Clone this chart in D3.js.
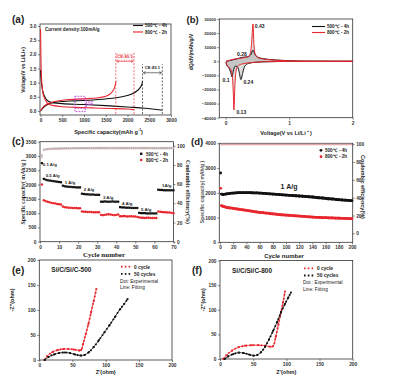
<!DOCTYPE html>
<html><head><meta charset="utf-8">
<script src="https://cdn.jsdelivr.net/npm/d3@7"></script>
<style>
html,body{margin:0;padding:0;background:#fff;}
svg{display:block;font-family:"Liberation Sans",Arial,sans-serif;}
</style></head>
<body><svg id="c" width="399" height="385"></svg>
<script>
// ---------- DATA ----------
// (a) galvanostatic profiles [capacity mAh/g, voltage V]
const aRedDis = [[0,2.9],[5,2.5],[10,1.9],[20,1.3],[35,0.9],[60,0.6],[100,0.42],[150,0.3],[200,0.24],[300,0.19],[500,0.15],[800,0.13],[1200,0.11],[1600,0.09],[2000,0.07],[2150,0.04]];
const aRedCha = [[0,0.0],[30,0.08],[80,0.17],[150,0.25],[300,0.33],[600,0.4],[1000,0.43],[1300,0.46],[1500,0.52],[1600,0.6],[1680,0.75],[1720,0.92],[1735,1.05]];
const aBlkDis = [[0,1.45],[10,1.2],[30,0.9],[60,0.65],[100,0.5],[150,0.38],[250,0.3],[500,0.26],[1000,0.23],[1500,0.19],[2000,0.14],[2400,0.1],[2800,0.03]];
const aBlkCha = [[0,0.0],[40,0.08],[100,0.17],[200,0.26],[400,0.32],[800,0.36],[1200,0.39],[1600,0.44],[1900,0.51],[2100,0.6],[2250,0.75],[2320,0.9],[2345,1.05]];
const aXTicks = [0,500,1000,1500,2000,2500,3000];
const aYTicks = [0,0.5,1.0,1.5,2.0,2.5,3.0];
const aCE = [{label:"CE:80.1", left:1730, right:2150, color:"#e8323c"},{label:"CE:83.1", left:2345, right:2800, color:"#222"}];

// (b) dQ/dV [voltage, value]
const bRedDis = [[2.0,0],[1.0,-50],[0.6,-300],[0.45,-700],[0.35,-1200],[0.25,-2000],[0.19,-3500],[0.16,-8000],[0.145,-18000],[0.13,-34500],[0.12,-22000],[0.1,-9000],[0.07,-5000],[0.04,-4000],[0.02,-2500],[0.005,-500]];
const bRedCha = [[0.005,0],[0.05,500],[0.1,1200],[0.2,2000],[0.3,2600],[0.36,3500],[0.39,6000],[0.41,14000],[0.43,26500],[0.445,12000],[0.47,4500],[0.52,2500],[0.6,1600],[0.8,800],[1.0,300],[1.3,80],[2.0,0]];
const bBlkDis = [[2.0,0],[1.0,-80],[0.6,-400],[0.45,-800],[0.36,-1500],[0.3,-3500],[0.27,-8000],[0.24,-13000],[0.21,-7000],[0.18,-3500],[0.15,-3500],[0.12,-7000],[0.1,-11000],[0.08,-8000],[0.05,-4500],[0.02,-3000],[0.005,-500]];
const bBlkCha = [[0.005,0],[0.05,400],[0.1,900],[0.18,1800],[0.26,2800],[0.3,3000],[0.35,3200],[0.4,5000],[0.43,8000],[0.46,5000],[0.5,3000],[0.6,1800],[0.8,900],[1.0,400],[1.3,100],[2.0,0]];
const bXTicks = [0,1,2];
const bYTicks = [-40000,-30000,-20000,-10000,0,10000,20000,30000];
const bPeaks = [{t:"0.43",v:0.46,q:25000},{t:"0.28",v:0.18,q:5500},{t:"0.1",v:-0.05,q:-13500},{t:"0.24",v:0.28,q:-14500},{t:"0.13",v:0.17,q:-36000}];

// (c) rate performance
const cCycles = [1,2,3,4,5,6,7,8,9,10,11,12,13,14,15,16,17,18,19,20,21,22,23,24,25,26,27,28,29,30,31,32,33,34,35,36,37,38,39,40,41,42,43,44,45,46,47,48,49,50,51,52,53,54,55,56,57,58,59,60,61,62,63,64,65,66,67,68,69,70];
const cBlack = [2750,2200,2170,2150,2140,2130,2120,2110,2100,2090,2080,1960,1940,1930,1920,1920,1910,1910,1900,1900,1900,1680,1670,1660,1660,1650,1650,1650,1640,1640,1640,1400,1400,1410,1400,1400,1400,1410,1400,1400,1400,1210,1200,1200,1190,1190,1190,1180,1180,1180,1180,1010,1000,1000,1000,990,990,990,990,990,990,1820,1810,1810,1800,1800,1800,1800,1800,1800];
const cRed = [2000,1450,1420,1400,1380,1360,1350,1340,1320,1310,1300,1230,1210,1200,1190,1190,1180,1180,1180,1170,1170,1060,1050,1050,1040,1040,1040,1030,1030,1030,1030,940,930,940,950,960,950,940,930,940,950,890,890,900,890,880,890,890,880,880,870,850,840,840,830,840,840,830,830,830,830,1060,1050,1040,1030,1030,1020,1020,1010,1000];
const cCE1 = [90,96,96.5,96.8,97,97,97.2,97.2,97.3,97.3,97.4,97.4,97.5,97.5,97.5,97.5,97.6,97.6,97.6,97.6,97.6,97.7,97.7,97.7,97.7,97.7,97.8,97.8,97.8,97.8,97.8,97.8,97.8,97.8,97.8,97.8,97.8,97.8,97.8,97.8,97.8,97.8,97.8,97.8,97.8,97.8,97.8,97.8,97.8,97.8,97.8,97.8,97.8,97.8,97.8,97.8,97.8,97.8,97.8,97.8,97.8,97.5,97.6,97.7,97.8,97.8,97.8,97.8,97.8,97.8];
const cCE2 = [88,95.5,96,96.2,96.4,96.5,96.6,96.6,96.7,96.7,96.8,96.8,96.8,96.9,96.9,96.9,97,97,97,97,97,97,97,97.1,97.1,97.1,97.1,97.1,97.1,97.1,97.1,97.2,97.2,97.2,97.2,97.2,97.2,97.2,97.2,97.2,97.2,97.2,97.2,97.2,97.2,97.2,97.2,97.2,97.2,97.2,97.2,97.2,97.2,97.2,97.2,97.2,97.2,97.2,97.2,97.2,97.2,97,97.1,97.1,97.2,97.2,97.2,97.2,97.2,97.2];
const cRates = [{t:"0.1 A/g",c:1.5,v:2650},{t:"0.5 A/g",c:3,v:2280},{t:"1 A/g",c:13,v:2030},{t:"2 A/g",c:23,v:1760},{t:"3 A/g",c:33,v:1480},{t:"4 A/g",c:43,v:1290},{t:"5 A/g",c:53,v:1090},{t:"1A/g",c:64,v:1900}];
const cXTicks = [0,10,20,30,40,50,60,70];
const cYTicks = [0,500,1000,1500,2000,2500,3000,3500];
const cY2Ticks = [0,20,40,60,80,100];

// (d) cycling at 1 A/g
const dCycles = [1,2,5,10,15,20,25,30,35,40,45,50,55,60,65,70,75,80,85,90,95,100,105,110,115,120,125,130,135,140,145,150,155,160,165,170,175,180,185,190,195,200];
const dBlack = [2800,1950,1930,1960,1980,1990,2000,2010,2010,2010,2005,2000,1995,1990,1980,1970,1960,1950,1940,1930,1920,1910,1900,1890,1880,1870,1860,1850,1840,1830,1815,1800,1790,1775,1760,1750,1735,1720,1710,1700,1690,1680];
const dRed = [2180,1480,1450,1410,1390,1370,1350,1330,1310,1290,1270,1250,1230,1210,1195,1180,1165,1150,1135,1120,1110,1100,1090,1080,1070,1060,1050,1040,1030,1020,1010,1005,1000,995,990,985,980,975,970,965,960,955];
const dCE = [99.2,99.5,99.6,99.6,99.7,99.7,99.7,99.7,99.7,99.7,99.7,99.7,99.7,99.7,99.7,99.7,99.7,99.7,99.7,99.7,99.7,99.7,99.7,99.7,99.7,99.7,99.7,99.7,99.7,99.7,99.7,99.7,99.7,99.7,99.7,99.7,99.7,99.7,99.7,99.7,99.7,99.7];
const dXTicks = [0,20,40,60,80,100,120,140,160,180,200];
const dYTicks = [0,1000,2000,3000,4000];
const dY2Ticks = [0,20,40,60,80,100];

// (e),(f) Nyquist [Z', -Z'']
const eRed = [[8,0],[12,8],[20,16],[28,20],[36,22],[44,22],[52,21],[60,19],[63,20],[66,32],[70,52],[74,72],[78,95],[82,118],[86,142]];
const eBlk = [[8,0],[14,6],[22,11],[30,14],[38,15],[46,14],[54,11],[62,9],[68,10],[75,16],[82,26],[90,40],[98,55],[106,70],[114,86],[122,102],[128,112],[133,122]];
const fRed = [[5,0],[10,8],[18,17],[28,24],[38,27],[48,28],[58,28],[68,27],[76,25],[80,26],[84,45],[88,70],[92,95],[95,115],[98,137]];
const fBlk = [[7,0],[12,5],[20,10],[28,13],[36,12],[44,9],[50,7],[56,8],[62,14],[68,25],[74,40],[80,57],[86,75],[92,95],[98,112],[103,125],[107,135]];
const eTicks = [0,50,100,150,200];

// ---------- DRAWING ----------
const svg = d3.select("#c");
const RED = "#e8262d", BLK = "#111";
const tickFont = 4.8;
const fInt = d3.format("d");

function makeAxis(g, axis, tx, ty){
  const a = g.append("g").attr("transform",`translate(${tx},${ty})`).call(axis);
  a.select(".domain").remove();
  a.selectAll("line").attr("stroke","#333").attr("stroke-width",0.6);
  a.selectAll("text").attr("font-size",tickFont).attr("font-weight","bold").attr("fill","#333").attr("font-family","Liberation Sans, Arial, sans-serif");
  return a;
}
function frame(x0,y0,x1,y1){
  svg.append("rect").attr("x",x0).attr("y",y0).attr("width",x1-x0).attr("height",y1-y0)
    .attr("fill","none").attr("stroke","#333").attr("stroke-width",0.8);
}
function text(x,y,t,o={}){
  const e = svg.append("text").attr("x",x).attr("y",y).text(t)
    .attr("font-size",o.size||6).attr("font-weight",o.weight||"bold")
    .attr("fill",o.fill||"#222").attr("text-anchor",o.anchor||"start");
  if(o.family) e.attr("font-family",o.family);
  if(o.rot) e.attr("transform",`rotate(${o.rot},${x},${y})`);
  return e;
}

// ===== (a) =====
{
  const x = d3.scaleLinear([0,3000],[40.5,171]);
  const y = d3.scaleLinear([-0.14,3.07],[115,24]);
  frame(40,24,171,115);
  makeAxis(svg, d3.axisBottom(x).tickValues(aXTicks).tickSize(2).tickPadding(1.5).tickFormat(fInt), 0, 115);
  makeAxis(svg, d3.axisLeft(y).tickValues(aYTicks).tickSize(2).tickPadding(1.5).tickFormat(d3.format(".1f")), 40, 0);
  const lineY = d3.line().x(d=>x(d[0])).y(d=>y(d[1])).curve(d3.curveCatmullRom);
  [[aBlkDis,BLK],[aBlkCha,BLK],[aRedDis,RED],[aRedCha,RED]].forEach(([d,c])=>{
    svg.append("path").attr("d",lineY(d)).attr("fill","none").attr("stroke",c).attr("stroke-width",1.1);
  });
  aCE.forEach((c,i)=>{
    const top = i===0 ? 2.05 : 1.65;
    [c.left,c.right].forEach(v=>{
      svg.append("line").attr("x1",x(v)).attr("x2",x(v)).attr("y1",y(0)+3).attr("y2",y(top))
        .attr("stroke",c.color).attr("stroke-width",0.7).attr("stroke-dasharray","2,1.5");
    });
    const ym = y(top-0.3);
    svg.append("line").attr("x1",x(c.left)+1).attr("x2",x(c.right)-1).attr("y1",ym).attr("y2",ym)
      .attr("stroke",c.color).attr("stroke-width",0.6);
    svg.append("path").attr("d",`M${x(c.left)+3},${ym-1.2}L${x(c.left)+0.8},${ym}L${x(c.left)+3},${ym+1.2}M${x(c.right)-3},${ym-1.2}L${x(c.right)-0.8},${ym}L${x(c.right)-3},${ym+1.2}`)
      .attr("fill","none").attr("stroke",c.color).attr("stroke-width",0.6);
    const tx = (x(c.left)+x(c.right))/2;
    if(i===0){
      svg.append("rect").attr("x",tx-8).attr("y",y(top-0.05)).attr("width",16).attr("height",6)
        .attr("fill","none").attr("stroke",c.color).attr("stroke-width",0.5).attr("stroke-dasharray","1.5,1");
    }
    text(tx, y(top-0.17), c.label, {size:4.2, fill:c.color, anchor:"middle"});
  });
  const P = "#c13ad6";
  svg.append("rect").attr("x",x(790)).attr("y",y(0.52)).attr("width",x(1030)-x(790)).attr("height",y(-0.02)-y(0.52))
    .attr("fill","none").attr("stroke",P).attr("stroke-width",0.9).attr("stroke-dasharray","1.6,1.2");
  [0.42,0.1].forEach(v=>svg.append("line").attr("x1",x(790)).attr("x2",x(1030)).attr("y1",y(v)).attr("y2",y(v))
    .attr("stroke",P).attr("stroke-width",0.9).attr("stroke-dasharray","1.6,1.2"));
  svg.append("line").attr("x1",x(1060)).attr("x2",x(1060)).attr("y1",y(0.4)).attr("y2",y(0.14)).attr("stroke",P).attr("stroke-width",0.6);
  text(x(1080), y(0.22), "ΔE", {size:4.5, fill:P, weight:"normal"});
  text(45,31,"Current density:100mA/g",{size:4.6});
  svg.append("line").attr("x1",133).attr("x2",143).attr("y1",25.5).attr("y2",25.5).attr("stroke",BLK).attr("stroke-width",1.1);
  svg.append("line").attr("x1",133).attr("x2",143).attr("y1",32).attr("y2",32).attr("stroke",RED).attr("stroke-width",1.1);
  text(145,27.3,"500℃ - 4h",{size:4.6});
  text(145,33.8,"800℃ - 2h",{size:4.6});
  text(12,23,"(a)",{size:10});
  text(106,134,"Specific capacity(mAh g",{size:5.5,anchor:"middle"});
  text(138,131,"-1",{size:3.5});
  text(141,134,")",{size:5.5});
  text(25,70,"Voltage/V vs Li/Li+)",{size:5,anchor:"middle",rot:-90});
}

// ===== (b) =====
{
  const x = d3.scaleLinear([-0.1,2],[219.3,352.7]);
  const y = d3.scaleLinear([-40000,30000],[117.7,19]);
  frame(219.3,19,352.7,117.7);
  makeAxis(svg, d3.axisBottom(x).tickValues(bXTicks).tickSize(2).tickPadding(1.5).tickFormat(fInt), 0, 117.7);
  makeAxis(svg, d3.axisLeft(y).tickValues(bYTicks).tickSize(2).tickPadding(1.2).tickFormat(fInt), 219.3, 0)
    .selectAll("text").attr("font-size",4.3);
  const area = d3.area().x(d=>x(d[0])).y0(y(0)).y1(d=>y(d[1])).curve(d3.curveMonotoneX);
  const line = d3.line().x(d=>x(d[0])).y(d=>y(d[1])).curve(d3.curveMonotoneX);
  const srt = a => a.slice().sort((p,q)=>p[0]-q[0]);
  [bRedDis,bRedCha,bBlkDis,bBlkCha].forEach(d=>{
    svg.append("path").attr("d",area(srt(d))).attr("fill","#9a9a9a").attr("fill-opacity",0.35);
  });
  [[bBlkDis,BLK],[bBlkCha,BLK],[bRedDis,RED],[bRedCha,RED]].forEach(([d,c])=>{
    svg.append("path").attr("d",line(srt(d))).attr("fill","none").attr("stroke",c).attr("stroke-width",1);
  });
  bPeaks.forEach(p=>text(x(p.v),y(p.q)+2,p.t,{size:5}));
  svg.append("line").attr("x1",312).attr("x2",325).attr("y1",26.5).attr("y2",26.5).attr("stroke",BLK).attr("stroke-width",1.1);
  svg.append("line").attr("x1",312).attr("x2",325).attr("y1",32.5).attr("y2",32.5).attr("stroke",RED).attr("stroke-width",1.1);
  text(327,28.3,"500℃ - 4h",{size:4.6});
  text(327,34.3,"800℃ - 2h",{size:4.6});
  text(186.5,23,"(b)",{size:9.5});
  text(283,135,"Voltage(V vs Li/Li",{size:5.5,anchor:"middle"});
  text(307,132,"+",{size:3.5});
  text(310,135,")",{size:5.5});
  text(193,52,"dQ/dV(mAh/g/V",{size:5,anchor:"middle",rot:-90});
}

// ===== (c) =====
{
  const x = d3.scaleLinear([0,70],[40,173.5]);
  const y = d3.scaleLinear([0,3500],[241.7,141.7]);
  const y2 = d3.scaleLinear([0,104.2],[241.7,141.7]);
  frame(40,141.7,173.5,241.7);
  makeAxis(svg, d3.axisBottom(x).tickValues(cXTicks).tickSize(2).tickPadding(1.5).tickFormat(fInt), 0, 241.7);
  makeAxis(svg, d3.axisLeft(y).tickValues(cYTicks).tickSize(2).tickPadding(1.5).tickFormat(fInt), 40, 0);
  makeAxis(svg, d3.axisRight(y2).tickValues(cY2Ticks).tickSize(2).tickPadding(1.5).tickFormat(fInt), 173.5, 0);
  cCycles.forEach((c,i)=>{
    svg.append("circle").attr("cx",x(c)).attr("cy",y2(cCE2[i])).attr("r",1).attr("fill","#d9b3b3");
    svg.append("rect").attr("x",x(c)-0.9).attr("y",y2(cCE1[i])-0.9).attr("width",1.8).attr("height",1.8).attr("fill","#b9b0b0");
  });
  cCycles.forEach((c,i)=>{
    svg.append("rect").attr("x",x(c)-1.1).attr("y",y(cBlack[i])-1.1).attr("width",2.2).attr("height",2.2).attr("fill",BLK);
    svg.append("circle").attr("cx",x(c)).attr("cy",y(cRed[i])).attr("r",1.2).attr("fill",RED);
  });
  cRates.forEach(r=>text(x(r.c),y(r.v),r.t,{size:4.3}));
  svg.append("rect").attr("x",140).attr("y",152.6).attr("width",2.4).attr("height",2.4).attr("fill",BLK);
  svg.append("circle").attr("cx",141.2).attr("cy",160).attr("r",1.3).attr("fill",RED);
  text(146,155.5,"500℃ - 4h",{size:4.6});
  text(146,161.8,"800℃ - 2h",{size:4.6});
  text(12,145,"(c)",{size:10});
  const serif = "Liberation Serif, Times New Roman, serif";
  text(104,256.5,"Cycle number",{size:7,anchor:"middle",family:serif});
  text(24.5,192,"Specific capacity( mAh/g )",{size:5.8,anchor:"middle",rot:-90,family:serif});
  text(186,192,"Coulombic efficiency(%)",{size:6,anchor:"middle",rot:90,family:serif});
}

// ===== (d) =====
{
  const x = d3.scaleLinear([0,200],[220,352]);
  const y = d3.scaleLinear([0,4000],[242.3,143.3]);
  const y2 = d3.scaleLinear([-10,101],[242.3,143.3]);
  frame(219.3,143.3,352.7,242.3);
  makeAxis(svg, d3.axisBottom(x).tickValues(dXTicks).tickSize(2).tickPadding(1.5).tickFormat(fInt), 0, 242.3);
  makeAxis(svg, d3.axisLeft(y).tickValues(dYTicks).tickSize(2).tickPadding(1.5).tickFormat(fInt), 219.3, 0);
  makeAxis(svg, d3.axisRight(y2).tickValues(dY2Ticks).tickSize(2).tickPadding(1.5).tickFormat(fInt), 352.7, 0);
  const lineCE = d3.line().x((d,i)=>x(dCycles[i])).y(d=>y2(d));
  svg.append("path").attr("d",lineCE(dCE)).attr("fill","none").attr("stroke","#e0a8a8").attr("stroke-width",1.6);
  const bl = dBlack.slice(1), rl = dRed.slice(1), cy = dCycles.slice(1);
  const l2 = d3.line().x((d,i)=>x(cy[i])).y(d=>y(d)).curve(d3.curveMonotoneX);
  svg.append("path").attr("d",l2(bl)).attr("fill","none").attr("stroke",BLK).attr("stroke-width",2.8);
  svg.append("path").attr("d",l2(rl)).attr("fill","none").attr("stroke",RED).attr("stroke-width",2.8);
  dCycles.forEach((c,i)=>{
    svg.append("circle").attr("cx",x(c)).attr("cy",y(dBlack[i])).attr("r",1.4).attr("fill",BLK);
    svg.append("circle").attr("cx",x(c)).attr("cy",y(dRed[i])).attr("r",1.4).attr("fill",RED);
  });
  svg.append("circle").attr("cx",321).attr("cy",150.3).attr("r",1.4).attr("fill",BLK);
  svg.append("circle").attr("cx",321).attr("cy",156.7).attr("r",1.4).attr("fill",RED);
  text(325,152,"500℃ - 4h",{size:4.6});
  text(325,158.4,"800℃ - 2h",{size:4.6});
  text(289,189,"1 A/g",{size:7,anchor:"middle"});
  text(191,145,"(d)",{size:9.5});
  text(284,258,"Cycle number",{size:6,anchor:"middle"});
  text(204,192,"Specific capacity( mAh/g )",{size:5,anchor:"middle",rot:-90,fill:"#555"});
  text(361,187,"Coulombic efficiency(%)",{size:5.5,anchor:"middle",rot:90});
}

// ===== (e) & (f) =====
function nyquist(box, red, blk, title, lab, lx, ylx, leg){
  const [x0,y0,x1,y1] = box;
  const x = d3.scaleLinear([0,200],[x0,x1]);
  const y = d3.scaleLinear([0,200],[y1,y0]);
  frame(x0,y0,x1,y1);
  makeAxis(svg, d3.axisBottom(x).tickValues(eTicks).tickSize(2).tickPadding(1.5).tickFormat(fInt), 0, y1);
  makeAxis(svg, d3.axisLeft(y).tickValues(eTicks).tickSize(2).tickPadding(1.5).tickFormat(fInt), x0, 0);
  const line = d3.line().x(d=>x(d[0])).y(d=>y(d[1])).curve(d3.curveCatmullRom);
  [[red,RED],[blk,BLK]].forEach(([d,c])=>{
    svg.append("path").attr("d",line(d)).attr("fill","none").attr("stroke",c).attr("stroke-width",0.8);
    svg.append("path").attr("d",line(d)).attr("fill","none").attr("stroke",c).attr("stroke-width",1.8).attr("stroke-dasharray","1.6,2.2");
    d.forEach(p=>svg.append("rect").attr("x",x(p[0])-0.9).attr("y",y(p[1])-0.9).attr("width",1.8).attr("height",1.8).attr("fill",c));
  });
  text(x0+12,y0+12,title,{size:6.5});
  const [lxx,lyy] = leg;
  [[RED,"0 cycle"],[BLK,"50 cycles"]].forEach(([c,t],i)=>{
    const yy = lyy + i*7.2;
    svg.append("line").attr("x1",lxx).attr("x2",lxx+10).attr("y1",yy).attr("y2",yy).attr("stroke",c).attr("stroke-width",1.8).attr("stroke-dasharray","1.6,2.2");
    text(lxx+13,yy+1.8,t,{size:4.8});
  });
  text(lxx-1,lyy+15.8,lab==="(e)"?"Dot: Experimental":"Dot : Experimental",{size:4.8,weight:"normal"});
  text(lxx-1,lyy+22.6,"Line: Fitting",{size:4.8,weight:"normal"});
  text(lx,274,lab,{size:10});
  text((x0+x1)/2,374,"Z'(ohm)",{size:5.5,anchor:"middle"});
  text(ylx,(y0+y1)/2-10,"-Z''(ohm)",{size:5.5,anchor:"middle",rot:-90});
}
nyquist([39.3,260,172,360], eRed, eBlk, "Si/C/Si/C-500", "(e)", 12, 14, [121,266.7]);
nyquist([220,260.5,352.7,359], fRed, fBlk, "Si/C/Si/C-800", "(f)", 192, 205, [304,268.3]);
</script></body></html>
